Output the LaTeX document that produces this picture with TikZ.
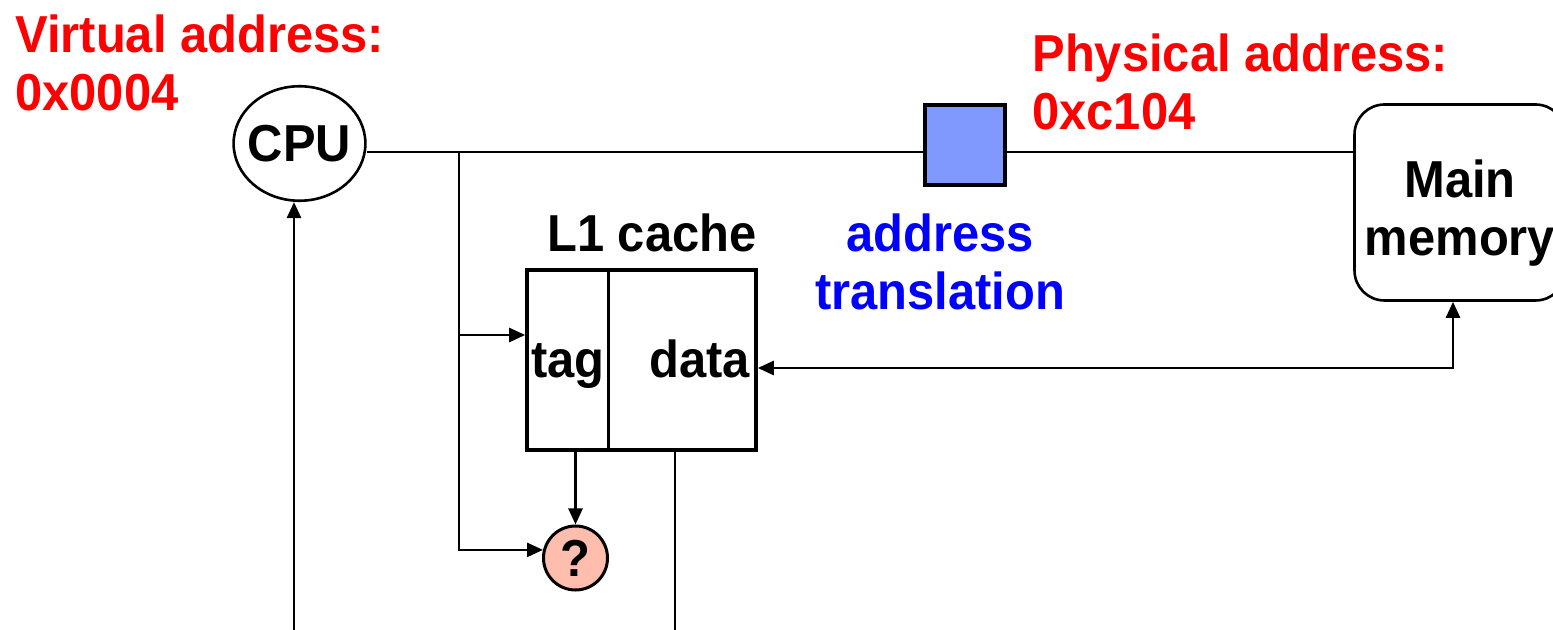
\documentclass[tikz,border=0pt]{standalone}
\usepackage{fontspec}
\setmainfont{Liberation Sans}[FakeStretch=0.94]
\usetikzlibrary{arrows.meta,shapes.geometric}
\definecolor{figR}{RGB}{255,0,0}
\definecolor{figB}{RGB}{0,0,255}
\definecolor{figBox}{RGB}{128,153,255}
\definecolor{figPink}{RGB}{255,189,173}

\begin{document}
\begin{tikzpicture}[x=0.5pt,y=-0.5pt,>={Triangle[length=8pt,width=7pt]},
  lbl/.style={font=\bfseries\fontsize{26}{29}\selectfont,inner sep=0pt},
  wire/.style={line width=1.3pt},
  cell/.style={lbl,draw,line width=1.8pt,minimum height=90pt,text height=20pt,text depth=2pt}]
\useasboundingbox (0,0) rectangle (1553,630);
% addresses
\node[lbl,text=figR,align=left,anchor=north west] (vaddr) at (15,14) {Virtual address:\\0x0004};
\node[lbl,text=figR,align=left,anchor=north west] (paddr) at (1032,33) {Physical address:\\0xc104};
% cpu, translation, memory
\node[lbl,draw,ellipse,line width=1.3pt,inner xsep=-2.5pt,minimum width=65.25pt,minimum height=57.25pt] (cpu) at (299.5,143.5) {CPU};
\node[draw,line width=1.8pt,fill=figBox,minimum size=40.25pt,inner sep=0pt] (tlb) at (965,145) {};
\node[lbl,text=figB,align=center,anchor=north] (tlbtxt) at (940,213) {address\\translation};
\node[draw,line width=1.3pt,rounded corners=15pt,minimum width=105.5pt,minimum height=98pt,
  label={[lbl,align=center,yshift=-5.5pt]center:{Main\\memory}}] (mem) at (1460,202.5) {};
% L1 cache
\node[lbl,anchor=north] (l1txt) at (652,213) {L1 cache};
\node[cell,minimum width=40.75pt] (tagcell) at (567.75,360) {tag};
\node[cell,text width=67.75pt,align=right,inner xsep=3pt] (datacell) at (682.25,360) {data};
\node[lbl,draw,circle,line width=1.5pt,fill=figPink,minimum size=32pt] (qmark) at (575.5,558) {?};
\coordinate (bus) at (459,152);
\coordinate (cpuin) at (294,640);
\coordinate (dataout) at (675,640);
\path ([yshift=12.5pt]tagcell.west) coordinate (tagin);
\draw[wire] (cpu.east |- bus) -- (tlb.west |- bus);
\draw[wire] (tlb.east |- bus) -- (mem.west |- bus);
\draw[wire,->] (bus) |- (qmark.166);
\draw[wire,->] (bus |- tagin) -- (tagin);
\draw[wire,->] (qmark.north |- tagcell.south) -- (qmark.north);
\draw[wire] (dataout |- datacell.south) -- (dataout);
\draw[wire,->] (cpuin) -- (cpuin |- cpu.south);
\draw[wire,<->] ([yshift=-4pt]datacell.east) -| ([xshift=-3.5pt]mem.south);
\end{tikzpicture}
\end{document}
